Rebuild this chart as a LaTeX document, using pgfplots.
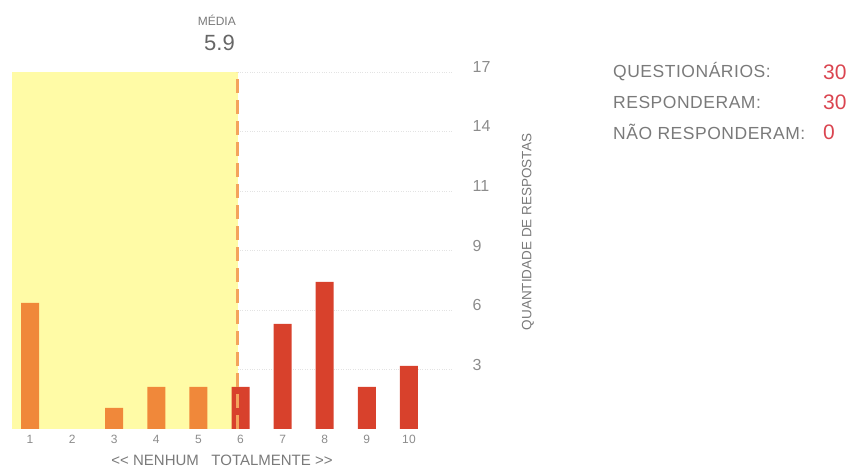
\documentclass[border=0pt]{standalone}
\usepackage{pgfplots}
\pgfplotsset{compat=1.18}
\usepackage{fontspec}
\setmainfont{Liberation Sans}
\newfontfamily\spaced[LetterSpace=3]{Liberation Sans}
\definecolor{txtgray}{HTML}{7A7A7A}
\definecolor{tickgray}{HTML}{8C8C8C}
\definecolor{yel}{HTML}{FFFBA6}
\definecolor{barorange}{HTML}{F0883A}
\definecolor{barred}{HTML}{D8412C}
\definecolor{dashor}{HTML}{F4A35C}
\definecolor{numred}{HTML}{DA4550}
\begin{document}
\begin{tikzpicture}
\useasboundingbox (0,0) rectangle (851pt,470pt);
\begin{axis}[
  at={(11.9pt,41pt)}, anchor=south west,
  x=42.1pt, y=21pt,
  xmin=0.57, xmax=11.05, ymin=0, ymax=17,
  axis line style={draw=none},
  major tick style={draw=none},
  xtick={1,...,10},
  ytick={2.8333,5.6667,8.5,11.3333,14.1667,17},
  yticklabels={3,6,9,11,14,17},
  yticklabel pos=right,
  ymajorgrids,
  grid style={dotted, line width=0.8pt, gray!22},
  /pgf/number format/assume math mode=true,
  xticklabel style={font=\fontsize{12}{14}\selectfont\spaced, text=tickgray, yshift=2pt},
  yticklabel style={font=\fontsize{16}{18}\selectfont, text=tickgray, anchor=west, xshift=16pt, yshift=5pt},
  ybar, bar width=18pt,
]
\fill[yel] (axis cs:0.57,0) rectangle (axis cs:5.93,17);
\addplot[fill=barorange, draw=none, bar shift=0pt] coordinates {(1,6) (3,1) (4,2) (5,2)};
\addplot[fill=barred, draw=none, bar shift=0pt] coordinates {(6,2) (7,5) (8,7) (9,2) (10,3)};
\draw[dashor, line width=2.6pt, dash pattern=on 14pt off 7pt] (axis cs:5.93,0) -- (axis cs:5.93,17);
\end{axis}
\node[font=\fontsize{15}{17}\selectfont, text=txtgray] at (222pt,10pt) {<{}< NENHUM\ \ \ TOTALMENTE >{}>};
\node[rotate=90, font=\fontsize{13.5}{15}\selectfont, text=txtgray] at (528pt,238pt) {QUANTIDADE DE RESPOSTAS};
\node[anchor=east, font=\fontsize{12}{14}\selectfont, text=txtgray, inner sep=0pt] at (236pt,450pt) {MÉDIA};
\node[anchor=east, font=\fontsize{22}{24}\selectfont, text=gray!80!black, inner sep=0pt] at (235pt,427pt) {5.9};
\begin{scope}[every node/.style={anchor=west, inner sep=0pt}]
\node[font=\fontsize{17.5}{20}\selectfont\spaced, text=txtgray] at (613pt,398pt) {QUESTIONÁRIOS:};
\node[font=\fontsize{17.5}{20}\selectfont\spaced, text=txtgray] at (613pt,368pt) {RESPONDERAM:};
\node[font=\fontsize{17.5}{20}\selectfont\spaced, text=txtgray] at (613pt,338pt) {NÃO RESPONDERAM:};
\node[font=\fontsize{21}{24}\selectfont, text=numred] at (823pt,398pt) {30};
\node[font=\fontsize{21}{24}\selectfont, text=numred] at (823pt,368pt) {30};
\node[font=\fontsize{21}{24}\selectfont, text=numred] at (823pt,338pt) {0};
\end{scope}
\end{tikzpicture}
\end{document}
